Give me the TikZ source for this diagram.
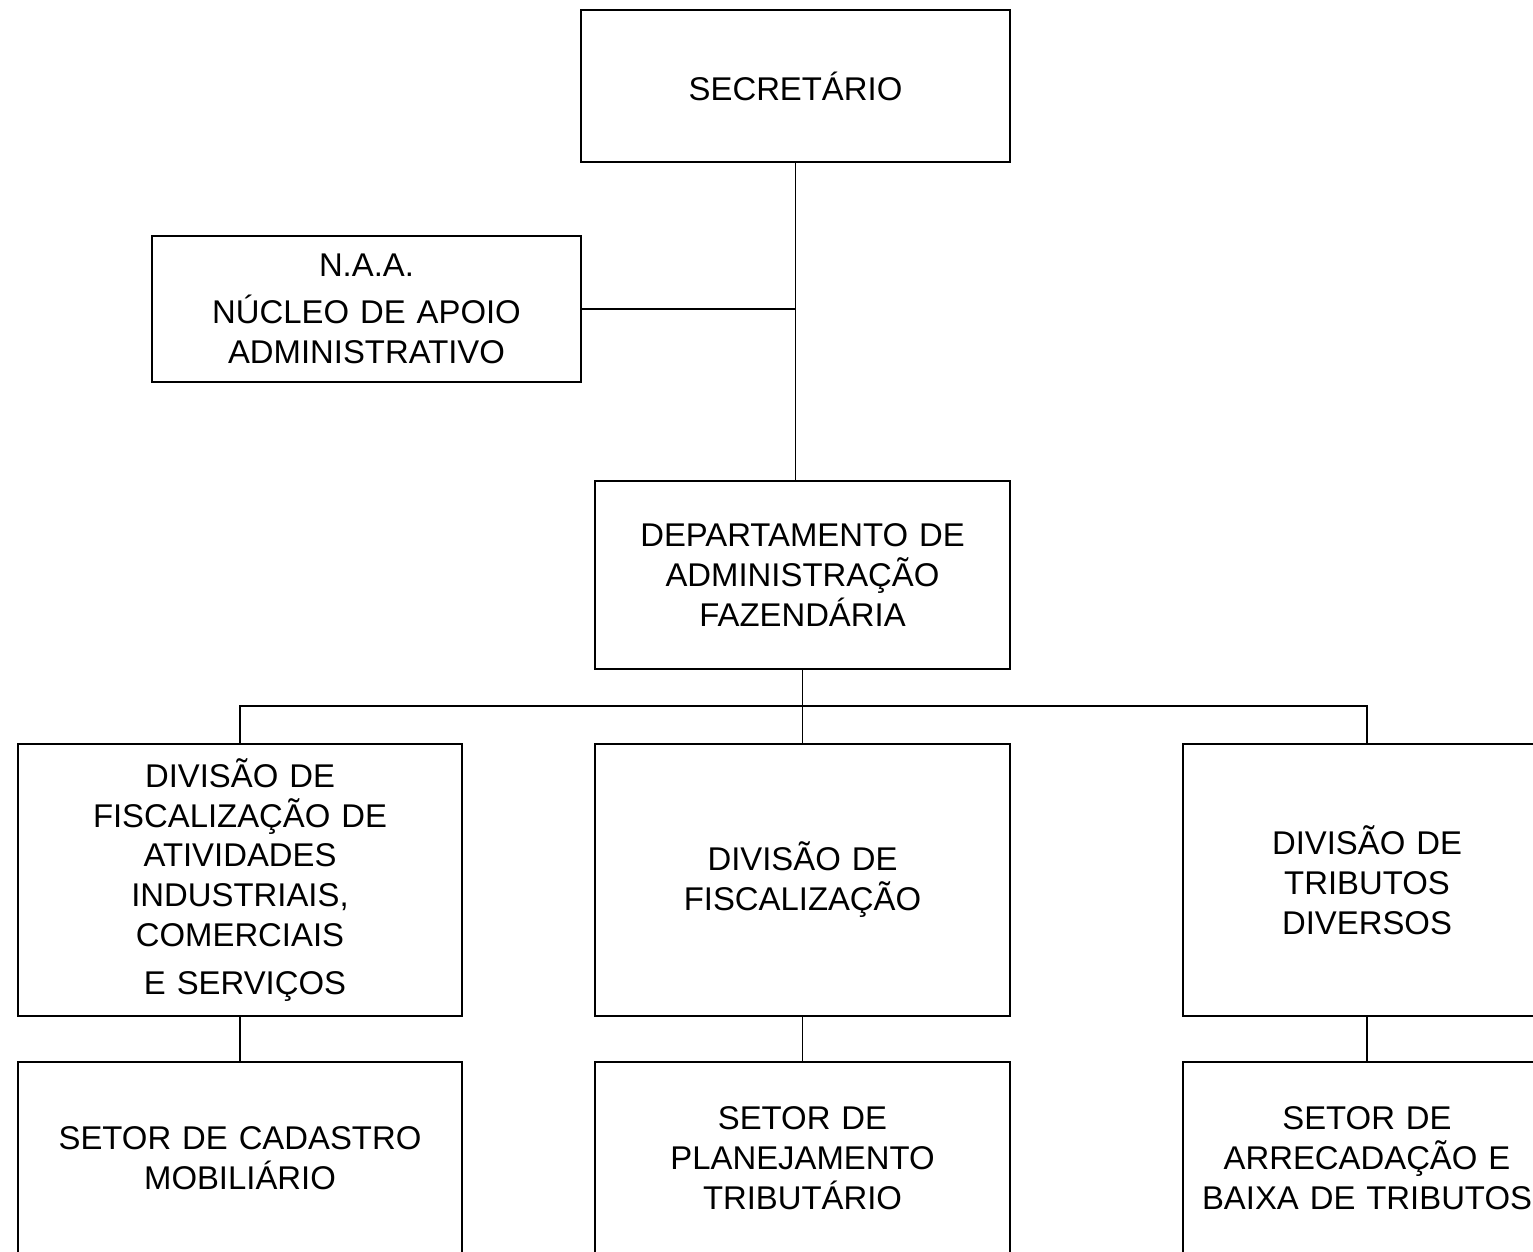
\documentclass[tikz,border=0pt]{standalone}
\usepackage{fontspec}
\setmainfont{Liberation Sans}
\usetikzlibrary{positioning,calc}
\tikzset{block/.style={draw,line width=1.1pt,inner sep=0pt,align=center,
           font=\fontsize{18.7}{22.7}\selectfont},
         line/.style={line width=1.1pt}
}

\begin{document}
\begin{tikzpicture}

\useasboundingbox (0,0) rectangle (30.66,-25.02);
\clip (0,0) rectangle (30.66,-25.02);

\node[block,text width=8.58cm,minimum height=3.04cm] (sec) at (15.91,-1.72) {SECRET\'ARIO};
\node[block,text width=8.58cm,minimum height=2.92cm] (naa) at (7.33,-6.18) {N.A.A.\\[4pt]N\'UCLEO DE APOIO\\ADMINISTRATIVO};
\node[block,text width=8.3cm,minimum height=3.76cm] (dept) at (16.05,-11.5) {DEPARTAMENTO DE\\ADMINISTRA\c{C}\~AO\\FAZEND\'ARIA};
\node[block,text width=8.3cm,minimum height=5.44cm,below=1.46cm of dept] (divfisc) {DIVIS\~AO DE\\FISCALIZA\c{C}\~AO};
\node[block,text width=8.88cm,minimum height=5.44cm] (divativ) at (divfisc -| 4.8,0) {DIVIS\~AO DE\\FISCALIZA\c{C}\~AO DE\\ATIVIDADES\\INDUSTRIAIS,\\COMERCIAIS\\[4.5pt]\hspace*{0.2cm}E SERVI\c{C}OS};
\node[block,text width=7.36cm,minimum height=5.44cm] (divtrib) at (divfisc -| 27.34,0) {DIVIS\~AO DE\\TRIBUTOS\\DIVERSOS};
\node[block,text width=8.88cm,minimum height=3.84cm,below=0.88cm of divativ] (cadastro) {SETOR DE CADASTRO\\MOBILI\'ARIO};
\node[block,text width=8.3cm,minimum height=3.84cm,below=0.88cm of divfisc] (planej) {SETOR DE\\PLANEJAMENTO\\TRIBUT\'ARIO};
\node[block,text width=7.36cm,minimum height=3.84cm,below=0.88cm of divtrib] (arrec) {SETOR DE\\ARRECADA\c{C}\~AO E\\BAIXA DE TRIBUTOS};

\coordinate (bus) at ($(divativ.north)+(0,0.74)$);
\draw[line] (sec.south)--(sec.south |- dept.north);
\draw[line] (naa.east)--(naa.east -| sec.south);
\draw[line] (dept.south)--(divfisc.north);
\draw[line] (divativ.north)--(bus)-|(divtrib.north);
\draw[line] (divativ)--(cadastro);
\draw[line] (divfisc)--(planej);
\draw[line] (divtrib)--(arrec);

\end{tikzpicture}
\end{document}
